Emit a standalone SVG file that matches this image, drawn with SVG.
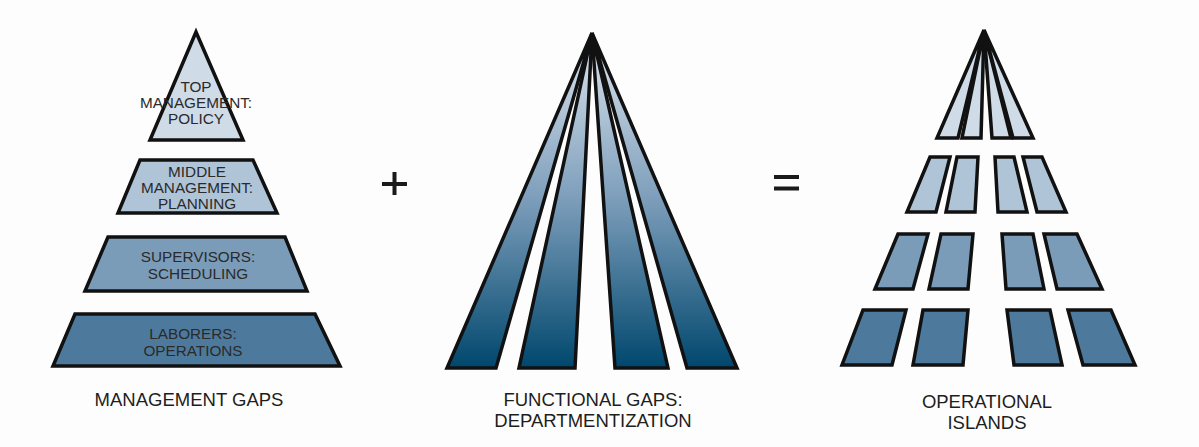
<svg xmlns="http://www.w3.org/2000/svg" width="1199" height="447" viewBox="0 0 1199 447">
<style>
.sh{stroke:#111;stroke-width:3.5;stroke-linejoin:miter}
.t{font-family:"Liberation Sans",Arial,sans-serif;font-size:15.3px;fill:#2a2a2a;text-anchor:middle}
.c{font-family:"Liberation Sans",Arial,sans-serif;font-size:18.5px;fill:#1e1e1e;text-anchor:middle}
.l1{fill:#cfdbe7}.l2{fill:#b0c4d8}.l3{fill:#7b9cb8}.l4{fill:#4d7a9c}
.g{fill:url(#fan)}
</style>
<defs>
<linearGradient id="fan" gradientUnits="userSpaceOnUse" x1="0" y1="33" x2="0" y2="368">
<stop offset="0" stop-color="#dde6ef"/>
<stop offset="0.5" stop-color="#7c9dba"/>
<stop offset="1" stop-color="#00476d"/>
</linearGradient>
</defs>
<rect width="1199" height="447" fill="#fdfdfd"/>
<g id="management-gaps">
<g id="top"><polygon class="sh l1" points="196,32 150,140 243,140"/>
<text class="t" x="196" y="92">TOP</text><text class="t" x="196" y="108">MANAGEMENT:</text><text class="t" x="196" y="124">POLICY</text></g>
<g id="middle"><polygon class="sh l2" points="140,160 253,160 277,213 118,213"/>
<text class="t" x="197" y="177">MIDDLE</text><text class="t" x="197" y="193">MANAGEMENT:</text><text class="t" x="197" y="209">PLANNING</text></g>
<g id="supervisors"><polygon class="sh l3" points="108,237 285,237 307,291 85,291"/>
<text class="t" x="198" y="262">SUPERVISORS:</text><text class="t" x="198" y="279">SCHEDULING</text></g>
<g id="laborers"><polygon class="sh l4" points="75,314 315,314 340,366 53,366"/>
<text class="t" x="193" y="339">LABORERS:</text><text class="t" x="193" y="356">OPERATIONS</text></g>
<text class="c" x="189" y="406">MANAGEMENT GAPS</text>
</g>
<g id="plus" fill="#1a1a1a"><rect x="392.5" y="172" width="4" height="23"/><rect x="382" y="182" width="25" height="4"/></g>
<g id="functional-gaps">
<polygon class="sh g" points="592,33 447,368 496,368"/>
<polygon class="sh g" points="592,33 519,368 575,368"/>
<polygon class="sh g" points="592,33 615,368 668,368"/>
<polygon class="sh g" points="592,33 687,368 737,368"/>
<text class="c" x="593" y="406">FUNCTIONAL GAPS:</text>
<text class="c" x="593" y="427">DEPARTMENTIZATION</text>
</g>
<g id="equals" fill="#1a1a1a"><rect x="774" y="175" width="25" height="4"/><rect x="774" y="186.5" width="25" height="4"/></g>
<g id="operational-islands">
<polygon class="sh l1" points="984,30 937,138 958,138"/>
<polygon class="sh l1" points="984,30 962,138 981,138"/>
<polygon class="sh l1" points="984,30 992,138 1011,138"/>
<polygon class="sh l1" points="984,30 1013,138 1033,138"/>
<polygon class="sh l2" points="930,157 950,157 936,212 907,212"/>
<polygon class="sh l2" points="957,157 978,157 975,212 946,212"/>
<polygon class="sh l2" points="995,157 1014,157 1027,212 998,212"/>
<polygon class="sh l2" points="1023,157 1042,157 1066,212 1037,212"/>
<polygon class="sh l3" points="898,234 928,234 913,289 875,289"/>
<polygon class="sh l3" points="941,234 973,234 968,289 929,289"/>
<polygon class="sh l3" points="1002,234 1033,234 1044,289 1006,289"/>
<polygon class="sh l3" points="1044,234 1077,234 1102,289 1057,289"/>
<polygon class="sh l4" points="863,310 906,310 892,365 842,365"/>
<polygon class="sh l4" points="923,310 968,310 963,365 913,365"/>
<polygon class="sh l4" points="1007,310 1050,310 1062,365 1014,365"/>
<polygon class="sh l4" points="1068,310 1111,310 1135,365 1083,365"/>
<text class="c" x="987" y="408">OPERATIONAL</text>
<text class="c" x="987" y="429">ISLANDS</text>
</g>
</svg>
